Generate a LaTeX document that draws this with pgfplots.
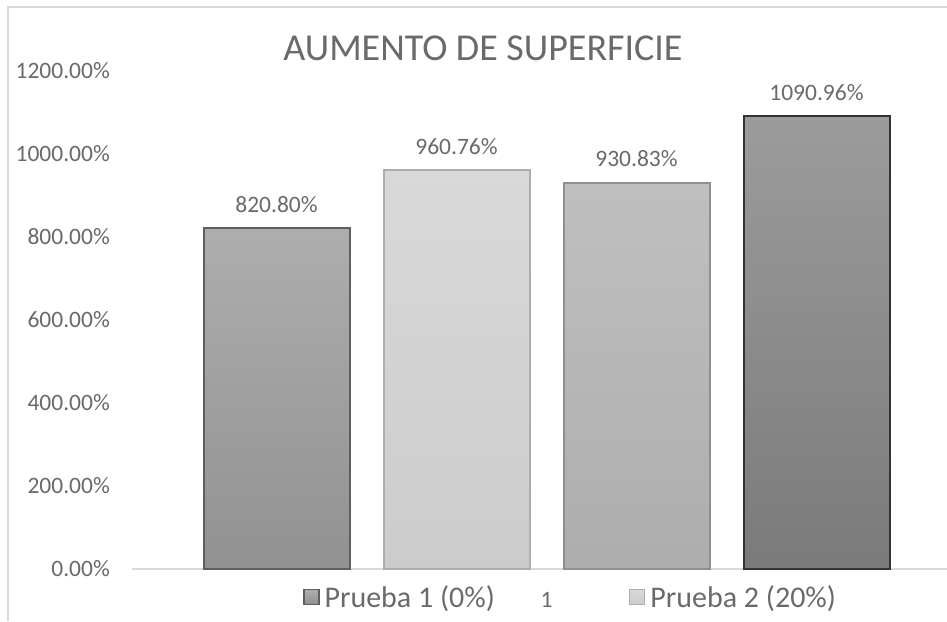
\documentclass[border=0pt]{standalone}
\usepackage{pgfplots}
\pgfplotsset{compat=1.18}
\usepackage{fontspec}
\setmainfont{Carlito}
\definecolor{txt}{HTML}{6A6A6A}
\definecolor{axl}{HTML}{D9D9D9}
\begin{document}
\begin{tikzpicture}
\path[use as bounding box, clip] (0pt,0pt) rectangle (947pt,621pt);
\fill[white] (0pt,0pt) rectangle (947pt,621pt);
\draw[axl, line width=1.5pt] (8pt,0pt) -- (8pt,614pt) -- (947pt,614pt);
\begin{axis}[
  at={(132pt,52pt)}, anchor=south west,
  scale only axis, width=829pt, height=498pt,
  xmin=0.5, xmax=1.5, ymin=0, ymax=1200,
  axis x line*=bottom, axis y line*=left,
  x axis line style={axl, line width=1.5pt, -},
  y axis line style={draw=none},
  tick style={draw=none}, major tick length=0pt,
  xtick={1}, xticklabels={1},
  ytick={0,200,400,600,800,1000,1200},
  yticklabels={0.00\%,200.00\%,400.00\%,600.00\%,800.00\%,1000.00\%,1200.00\%},
  yticklabel style={font=\fontsize{23.5}{28}\selectfont, text=txt, anchor=east, xshift=-22pt, inner sep=0pt},
  xticklabel style={font=\fontsize{23.5}{28}\selectfont, text=txt, anchor=center, yshift=-31pt, inner sep=0pt},
  bar width=146pt,
  point meta=explicit symbolic,
  nodes near coords,
  every node near coord/.append style={font=\fontsize{23.5}{28}\selectfont, text=txt, anchor=center, yshift=24pt, inner sep=0pt},
  title={AUMENTO DE SUPERFICIE},
  title style={at={(axis description cs:0.4234,1.033)}, anchor=center, font=\fontsize{38}{44}\selectfont, text=txt, inner sep=0pt},
  legend columns=2,
  legend style={at={(axis description cs:0.2063,-0.0562)}, anchor=west, draw=none, fill=none, inner sep=0pt, outer sep=0pt,
    font=\fontsize{30}{36}\selectfont, text=txt,
    nodes={inner sep=0pt},
    /tikz/every odd column/.append style={column sep=5pt},
    /tikz/every even column/.append style={column sep=134pt}},
  legend cell align=left,
  legend image code/.code={\draw[#1, line width=1.5pt] (0pt,-7.5pt) rectangle (15pt,7.5pt);},
]
\addplot[ybar, bar shift=-270pt, draw=black!63, line width=2pt, top color=black!32, bottom color=black!43,
  every node near coord/.append style={xshift=-270pt}] coordinates {(1,820.80) [820.80\%]};
\addplot[ybar, bar shift=-90pt, draw=black!32, line width=2pt, top color=black!15, bottom color=black!20,
  every node near coord/.append style={xshift=-90pt}] coordinates {(1,960.76) [960.76\%]};
\addplot[ybar, bar shift=90pt, draw=black!44, line width=2pt, top color=black!25, bottom color=black!32,
  every node near coord/.append style={xshift=90pt}] coordinates {(1,930.83) [930.83\%]};
\addplot[ybar, bar shift=270pt, draw=black!80, line width=2pt, top color=black!39, bottom color=black!52,
  every node near coord/.append style={xshift=270pt}] coordinates {(1,1090.96) [1090.96\%]};
\legend{Prueba 1 (0\%), Prueba 2 (20\%)}
\end{axis}
\end{tikzpicture}
\end{document}
